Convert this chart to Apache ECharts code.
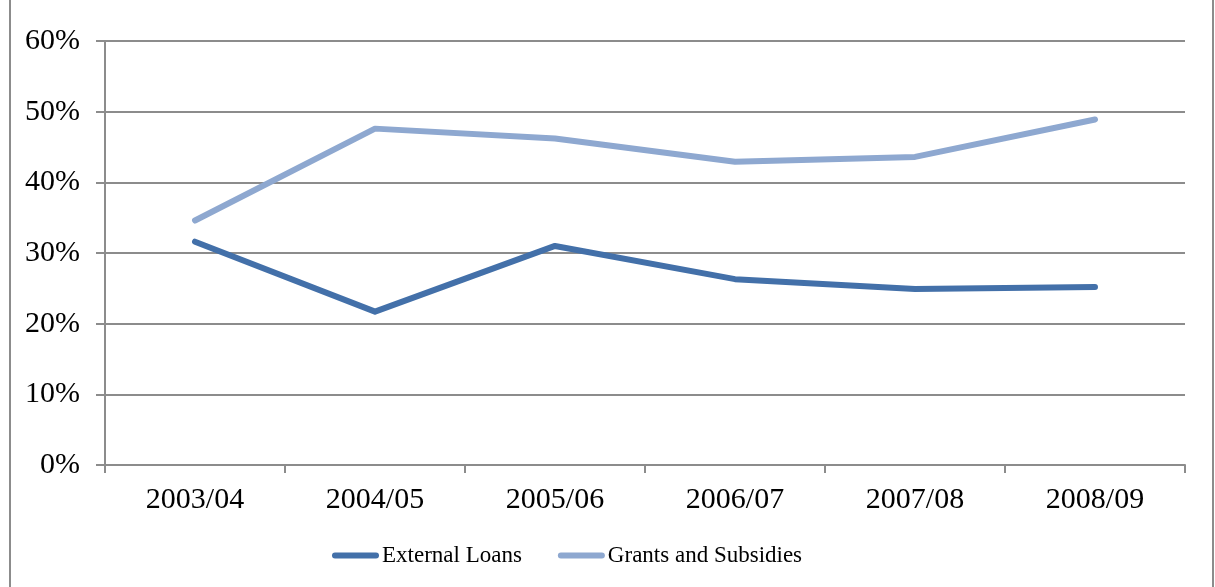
<!DOCTYPE html>
<html>
<head>
<meta charset="utf-8">
<script src="https://cdn.jsdelivr.net/npm/echarts@6/dist/echarts.min.js"></script>
<style>
  html, body { margin: 0; padding: 0; background: #fff; }
  #chart { width: 1215px; height: 587px; }
</style>
</head>
<body>
<div id="chart"></div>
<script>
// Share of financing by source, per fiscal year (%)
const years = ['2003/04', '2004/05', '2005/06', '2006/07', '2007/08', '2008/09'];
const externalLoans = [31.6, 21.7, 31.0, 26.3, 24.9, 25.2];
const grantsSubsidies = [34.6, 47.6, 46.2, 42.9, 43.6, 48.9];
const yTicks = { min: 0, max: 60, interval: 10 };

const FONT = '"Liberation Serif", "Times New Roman", serif';
const GRID_GREY = '#8c8c8c';
const lineIcon = 'path://M3,0 L44,0 A3,3 0 0 1 44,6 L3,6 A3,3 0 0 1 3,0 Z';

const chart = echarts.init(document.getElementById('chart'), null, { renderer: 'canvas' });
chart.setOption({
  animation: false,
  backgroundColor: '#ffffff',
  graphic: [{
    type: 'rect',
    shape: { x: 10, y: -10, width: 1203, height: 610 },
    style: { fill: 'none', stroke: GRID_GREY, lineWidth: 2 },
    silent: true
  }],
  grid: { left: 105, right: 30, top: 41, bottom: 122, containLabel: false },
  legend: {
    top: 539,
    left: 327,
    itemWidth: 47,
    itemHeight: 6,
    itemGap: 36,
    textStyle: { fontFamily: FONT, fontSize: 23, color: '#000', padding: [0, 0, 0, -2] },
    data: [
      { name: 'External Loans', icon: lineIcon },
      { name: 'Grants and Subsidies', icon: lineIcon }
    ]
  },
  xAxis: {
    type: 'category',
    data: years,
    boundaryGap: true,
    axisLine: { lineStyle: { color: GRID_GREY, width: 2 } },
    axisTick: { show: true, length: 8, alignWithLabel: false, lineStyle: { color: GRID_GREY, width: 2 } },
    axisLabel: { fontFamily: FONT, fontSize: 30, color: '#000', margin: 20 },
    splitLine: { show: false }
  },
  yAxis: {
    type: 'value',
    min: yTicks.min,
    max: yTicks.max,
    interval: yTicks.interval,
    axisLine: { show: true, lineStyle: { color: GRID_GREY, width: 2 } },
    axisTick: { show: true, length: 9, lineStyle: { color: GRID_GREY, width: 2 } },
    axisLabel: { fontFamily: FONT, fontSize: 30, color: '#000', margin: 25, formatter: '{value}%' },
    splitLine: { show: true, lineStyle: { color: GRID_GREY, width: 2 } }
  },
  series: [
    {
      name: 'External Loans',
      type: 'line',
      data: externalLoans,
      symbol: 'none',
      color: '#4370a9',
      lineStyle: { width: 6, color: '#4370a9', cap: 'round', join: 'round' }
    },
    {
      name: 'Grants and Subsidies',
      type: 'line',
      data: grantsSubsidies,
      symbol: 'none',
      color: '#8ea8d0',
      lineStyle: { width: 6, color: '#8ea8d0', cap: 'round', join: 'round' }
    }
  ]
});
</script>
</body>
</html>
